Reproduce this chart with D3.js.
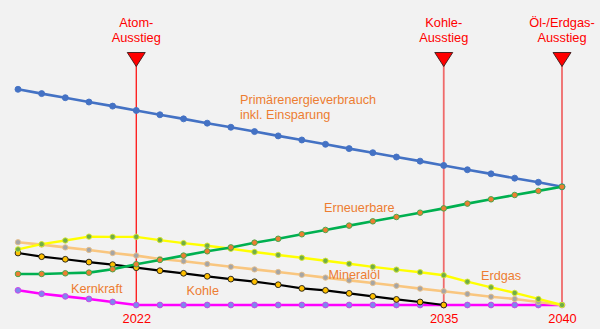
<!DOCTYPE html>
<html>
<head>
<meta charset="utf-8">
<script src="https://cdn.jsdelivr.net/npm/d3@7"></script>
<style>
  html, body { margin: 0; padding: 0; background: #f2f2f2; }
  svg { display: block; font-family: "Liberation Sans", Arial, sans-serif; }
</style>
</head>
<body>
<svg id="chart" width="600" height="329"></svg>
<script>
// Energieszenario 2017–2040, Anteile in % des Primärenergieverbrauchs 2017
const years = d3.range(2017, 2041);

const primaerenergie = [100, 98.0, 96.1, 94.1, 92.2, 90.2, 88.2, 86.3, 84.3, 82.4, 80.4, 78.4,
                        76.5, 74.5, 72.5, 70.6, 68.6, 66.7, 64.7, 62.7, 60.8, 58.8, 56.9, 54.8];
const erneuerbare = [14.4, 14.4, 14.7, 15.0, 16.6, 18.9, 20.9, 22.9, 24.9, 26.7, 28.9, 30.7,
                     32.8, 34.8, 36.8, 38.8, 40.8, 42.8, 44.8, 47.0, 49.0, 51.0, 52.9, 54.8];
const erdgas = [25.8, 28.2, 29.9, 31.7, 31.6, 31.6, 30.1, 28.7, 27.5, 26.1, 24.6, 23.2,
                21.9, 20.5, 19.1, 17.7, 16.4, 15.2, 13.8, 10.8, 8.2, 5.6, 2.8, 0];
const mineraloel = [29.1, 28.0, 26.7, 25.5, 24.1, 22.9, 21.3, 20.3, 19.0, 17.7, 16.5, 15.3,
                    14.0, 12.7, 11.4, 10.2, 8.9, 7.6, 6.4, 5.1, 3.8, 2.8, 1.4, 0];
const kohle = [24.1, 22.4, 21.2, 19.9, 18.7, 17.3, 15.9, 14.7, 13.3, 12.0, 10.8, 9.4,
               7.7, 6.8, 5.4, 4.0, 2.6, 1.4, 0];
const kernkraft = [6.8, 5.2, 4.0, 2.8, 1.4, 0, 0, 0, 0, 0, 0, 0,
                   0, 0, 0, 0, 0, 0, 0, 0, 0, 0, 0, 0];

const ausstiegJahre = [2022, 2035, 2040];
const ausstiegTexte = [["Atom-", "Ausstieg"], ["Kohle-", "Ausstieg"], ["Öl-/Erdgas-", "Ausstieg"]];
const achsenJahre = [2022, 2035, 2040];

const svg = d3.select("#chart");
const W = 600, H = 329;
svg.append("rect").attr("width", W).attr("height", H).attr("fill", "#f2f2f2");

const x = d3.scaleLinear().domain([2017, 2040]).range([18, 562]);
const y = d3.scaleLinear().domain([0, 100]).range([305, 89.3]);

// Ausstiegs-Markierungen
const markers = svg.append("g");
ausstiegJahre.forEach((yr, i) => {
  const cx = x(yr);
  markers.append("line")
    .attr("x1", cx).attr("x2", cx)
    .attr("y1", 64).attr("y2", 307)
    .attr("stroke", i === 0 ? "#ff0000" : "#f06a6a")
    .attr("stroke-width", i === 0 ? 1.2 : 1.8);
  markers.append("path")
    .attr("d", `M${cx - 9},52.5 L${cx + 9},52.5 L${cx},66.5 Z`)
    .attr("fill", "#ff0000")
    .attr("stroke", "#3a1a1a")
    .attr("stroke-width", 0.9);
  const t = markers.append("text")
    .attr("text-anchor", "middle")
    .attr("fill", "#ff0000")
    .attr("font-size", "12.8px");
  ausstiegTexte[i].forEach((s, j) => {
    t.append("tspan").attr("x", cx).attr("y", 27.3 + j * 15).text(s);
  });
});

// Achse mit den Ausstiegsjahren
const axis = d3.axisBottom(x)
  .tickValues(achsenJahre)
  .tickFormat(d3.format("d"))
  .tickSize(0)
  .tickPadding(9);
const ax = svg.append("g").attr("transform", `translate(0,${y(0)})`).call(axis);
ax.select(".domain").remove();
ax.selectAll("text")
  .attr("fill", "#ff0000")
  .attr("font-size", "12.8px")
  .attr("font-family", "\"Liberation Sans\", Arial, sans-serif");

// Zeitreihen
const series = [
  { name: "Primärenergieverbrauch", values: primaerenergie, line: "#4472c4", width: 2.6, dot: "#4472c4", dotStroke: "#4472c4", r: 3 },
  { name: "Kernkraft", values: kernkraft, line: "#ff00ff", width: 2.6, dot: "#7f86ee", dotStroke: "#d040e8", r: 2.9 },
  { name: "Kohle", values: kohle, line: "#000000", width: 2.2, dot: "#ffc000", dotStroke: "#1a1a1a", r: 2.9 },
  { name: "Mineralöl", values: mineraloel, line: "#f9c67f", width: 2.6, dot: "#a5a5a5", dotStroke: "#e8c08a", r: 2.7 },
  { name: "Erdgas", values: erdgas, line: "#ffff00", width: 2.4, dot: "#70ad47", dotStroke: "#d8e830", r: 2.7 },
  { name: "Erneuerbare", values: erneuerbare, line: "#00b050", width: 2.6, dot: "#ed7d31", dotStroke: "#3aa84a", r: 2.8 }
];

const line = d3.line().x(d => x(d.year)).y(d => y(d.value));

series.forEach(s => {
  const pts = s.values.map((v, i) => ({ year: years[i], value: v }));
  const g = svg.append("g");
  g.append("path")
    .datum(pts)
    .attr("d", line)
    .attr("fill", "none")
    .attr("stroke", s.line)
    .attr("stroke-width", s.width)
    .attr("stroke-linejoin", "round");
  g.selectAll("circle")
    .data(pts)
    .join("circle")
    .attr("cx", d => x(d.year))
    .attr("cy", d => y(d.value))
    .attr("r", s.r)
    .attr("fill", s.dot)
    .attr("stroke", s.dotStroke)
    .attr("stroke-width", 0.9);
});

// Beschriftungen der Reihen
const labels = [
  { lines: ["Primärenergieverbrauch", "inkl. Einsparung"], x: 240, y: 104 },
  { lines: ["Erneuerbare"], x: 324, y: 212.3 },
  { lines: ["Mineralöl"], x: 328.5, y: 279 },
  { lines: ["Erdgas"], x: 481, y: 279.5 },
  { lines: ["Kernkraft"], x: 71, y: 293.3 },
  { lines: ["Kohle"], x: 186.5, y: 295 }
];
labels.forEach(l => {
  const t = svg.append("text")
    .attr("fill", "#ed7d31")
    .attr("font-size", "12.7px");
  l.lines.forEach((s, j) => {
    t.append("tspan").attr("x", l.x).attr("y", l.y + j * 15.3).text(s);
  });
});
</script>
</body>
</html>
